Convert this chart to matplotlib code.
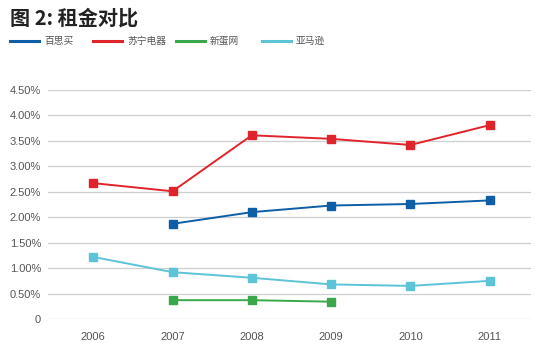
import matplotlib
matplotlib.use('Agg')
import matplotlib.pyplot as plt
from matplotlib.lines import Line2D
from matplotlib.ticker import FuncFormatter

plt.rcParams['font.family'] = ['Noto Sans CJK SC', 'DejaVu Sans']

# Data (rent as share of revenue)
years = ['2006', '2007', '2008', '2009', '2010', '2011']
names = ['百思买', '苏宁电器', '新蛋网', '亚马逊']
bestbuy = [None, 1.87, 2.10, 2.23, 2.26, 2.33]
suning = [2.67, 2.51, 3.61, 3.54, 3.42, 3.81]
newegg = [None, 0.37, 0.37, 0.34, None, None]
amazon = [1.22, 0.92, 0.81, 0.68, 0.65, 0.75]
colors = ['#0d5ea6', '#e0242b', '#3aa84a', '#5cc4d6']

series = [bestbuy, suning, newegg, amazon]

fig = plt.figure(figsize=(5.5, 3.53), dpi=100)
ax = fig.add_axes([48 / 550, 34 / 353, 483 / 550, 229 / 353])

for vals, c in zip(series, colors):
    xs = [i for i, v in enumerate(vals) if v is not None]
    ys = [vals[i] / 100 for i in xs]
    ax.plot(xs, ys, color=c, lw=1.4, marker='s', ms=5.2, mec=c, mfc=c, zorder=3)

ax.set_xlim(-0.57, 5.52)
ax.set_ylim(0, 0.045)
ax.set_yticks([i * 0.005 for i in range(10)])
ax.yaxis.set_major_formatter(FuncFormatter(lambda v, p: '0' if v == 0 else f'{v * 100:.2f}%'))
ax.set_xticks(range(len(years)))
ax.set_xticklabels(years)
ax.grid(axis='y', color='#cfcfcf', lw=0.9)
ax.set_axisbelow(True)
for s in ax.spines.values():
    s.set_visible(False)
ax.tick_params(length=0, labelsize=8, labelcolor='#555555')
ax.tick_params(axis='x', pad=9)
ax.tick_params(axis='y', pad=5)
for lab in ax.get_xticklabels() + ax.get_yticklabels():
    lab.set_family('Liberation Sans')

# Title
fig.text(10 / 550, 1 - 18 / 353, '图 2: 租金对比', fontsize=14.5, fontweight='bold',
         va='center', ha='left', color='#222222')

# Legend drawn by hand
leg_x = [10, 93, 176, 262]
ly = 1 - 41 / 353
for x0, name, c in zip(leg_x, names, colors):
    fig.add_artist(Line2D([x0 / 550, (x0 + 29) / 550], [ly, ly], color=c, lw=2.2,
                          transform=fig.transFigure))
    fig.text((x0 + 34) / 550, ly, name, fontsize=7, va='center', ha='left', color='#555555')

fig.savefig('out.png', dpi=100, facecolor='white')
